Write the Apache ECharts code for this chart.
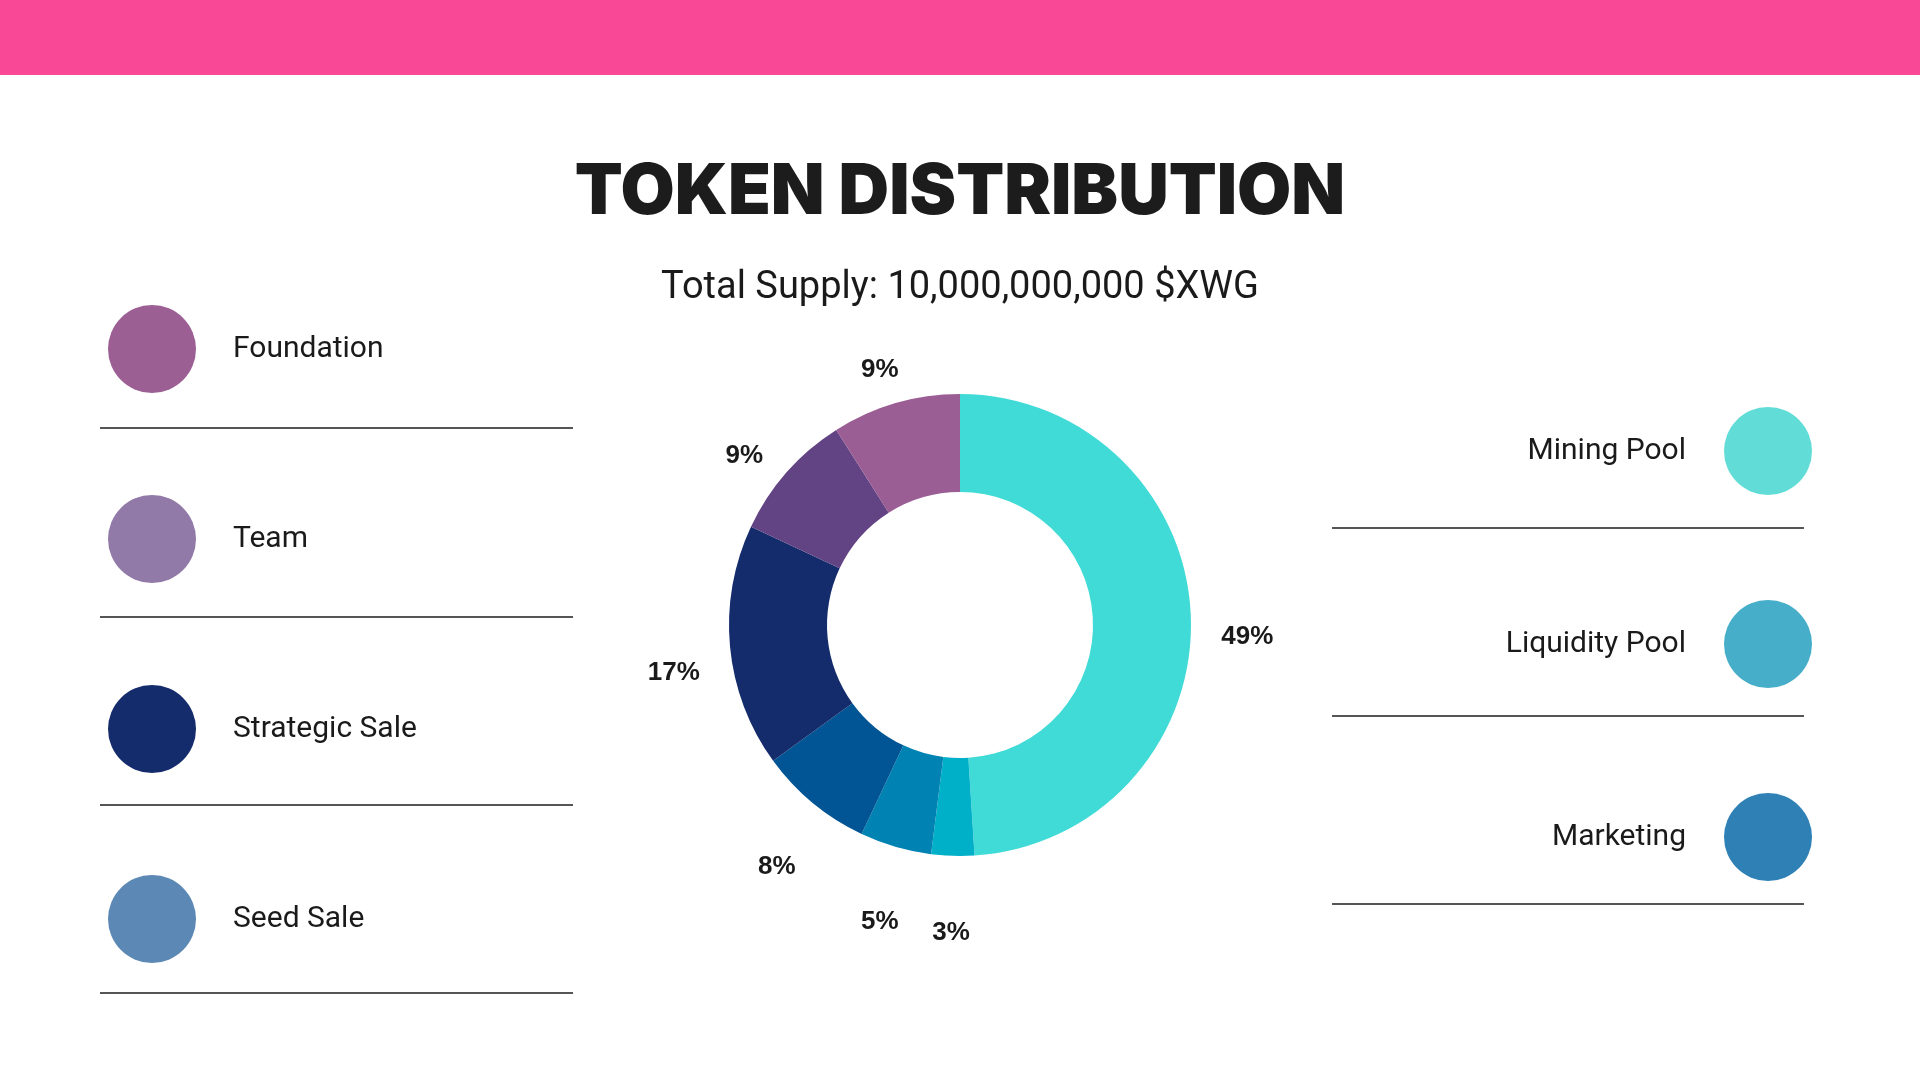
<!DOCTYPE html>
<html>
<head>
<meta charset="utf-8">
<script src="https://cdn.jsdelivr.net/npm/echarts@6/dist/echarts.min.js"></script>
<style>
  html, body { margin: 0; padding: 0; background: #ffffff; }
  #chart { width: 1920px; height: 1080px; }
</style>
</head>
<body>
<div id="chart"></div>
<script>
// ---- data ----
const categories = ['Mining Pool', 'Liquidity Pool', 'Marketing', 'Seed Sale', 'Strategic Sale', 'Team', 'Foundation'];
const shares = [49, 3, 5, 8, 17, 9, 9];
const sliceColors = ['#41DBD7', '#00AFC8', '#0082B3', '#015594', '#142C6C', '#624383', '#9B5E94'];

const leftLegendNames = ['Foundation', 'Team', 'Strategic Sale', 'Seed Sale'];
const leftLegendColors = ['#9C5F94', '#9179A8', '#142C6B', '#5B88B4'];
const rightLegendNames = ['Mining Pool', 'Liquidity Pool', 'Marketing'];
const rightLegendColors = ['#61DCD6', '#47AEC9', '#2E80B5'];

const titleText = 'TOKEN DISTRIBUTION';
const subtitleText = 'Total Supply: 10,000,000,000 $XWG';

// ---- chart ----
const chart = echarts.init(document.getElementById('chart'), null, { renderer: 'canvas' });

const sliceData = categories.map((name, i) => ({ name: name, value: shares[i], itemStyle: { color: sliceColors[i] } }));
const labelData = categories.map((name, i) => ({ name: name, value: shares[i] }));

const legendText = { fontFamily: 'Roboto', fontSize: 30, color: '#1a1a1a' };

const separatorStyle = { stroke: '#555555', lineWidth: 2 };
const leftLineYs = [428, 617, 805, 993];
const rightLineYs = [528, 716, 904];
const graphics = [
  { type: 'rect', left: 0, top: 0, shape: { x: 0, y: 0, width: 1920, height: 75 }, style: { fill: '#F84896' }, silent: true }
];
leftLineYs.forEach(y => graphics.push({ type: 'line', shape: { x1: 100, y1: y, x2: 573, y2: y }, style: separatorStyle, silent: true }));
rightLineYs.forEach(y => graphics.push({ type: 'line', shape: { x1: 1332, y1: y, x2: 1804, y2: y }, style: separatorStyle, silent: true }));

const option = {
  animation: false,
  backgroundColor: '#ffffff',
  title: [
    {
      text: titleText,
      left: 'center',
      top: 153,
      textStyle: { fontFamily: 'Inter', fontWeight: 900, fontSize: 70, color: '#1c1c1c' }
    },
    {
      text: subtitleText,
      left: 'center',
      top: 264,
      textStyle: { fontFamily: 'Roboto', fontWeight: 'normal', fontSize: 38, color: '#1a1a1a' }
    }
  ],
  legend: [
    {
      orient: 'vertical',
      left: 108,
      top: 305,
      padding: 0,
      itemWidth: 88,
      itemHeight: 88,
      itemGap: 102,
      icon: 'circle',
      selectedMode: false,
      align: 'left',
      textStyle: Object.assign({ padding: [0, 0, 0, 32] }, legendText),
      data: leftLegendNames.map((n, i) => ({ name: n, icon: 'circle', itemStyle: { color: leftLegendColors[i] } }))
    },
    {
      orient: 'vertical',
      right: 108,
      top: 407,
      padding: 0,
      itemWidth: 88,
      itemHeight: 88,
      itemGap: 105,
      icon: 'circle',
      selectedMode: false,
      align: 'right',
      textStyle: Object.assign({ padding: [0, 33, 0, 0] }, legendText),
      data: rightLegendNames.map((n, i) => ({ name: n, icon: 'circle', itemStyle: { color: rightLegendColors[i] } }))
    }
  ],
  graphic: graphics,
  series: [
    {
      type: 'pie',
      name: 'Distribution',
      center: [960, 625],
      radius: [133, 231],
      startAngle: 90,
      clockwise: true,
      silent: true,
      label: { show: false },
      labelLine: { show: false },
      emphasis: { disabled: true },
      data: sliceData
    },
    {
      type: 'pie',
      name: 'Labels',
      center: [960, 645.5],
      radius: [275, 294],
      startAngle: 90,
      clockwise: true,
      silent: true,
      itemStyle: { color: 'rgba(0,0,0,0)' },
      label: {
        show: true,
        position: 'inside',
        formatter: '{c}%',
        fontFamily: 'Liberation Sans',
        fontWeight: 'bold',
        fontSize: 26,
        color: '#1a1a1a'
      },
      labelLine: { show: false },
      emphasis: { disabled: true },
      data: labelData
    }
  ]
};

chart.setOption(option);
</script>
</body>
</html>
